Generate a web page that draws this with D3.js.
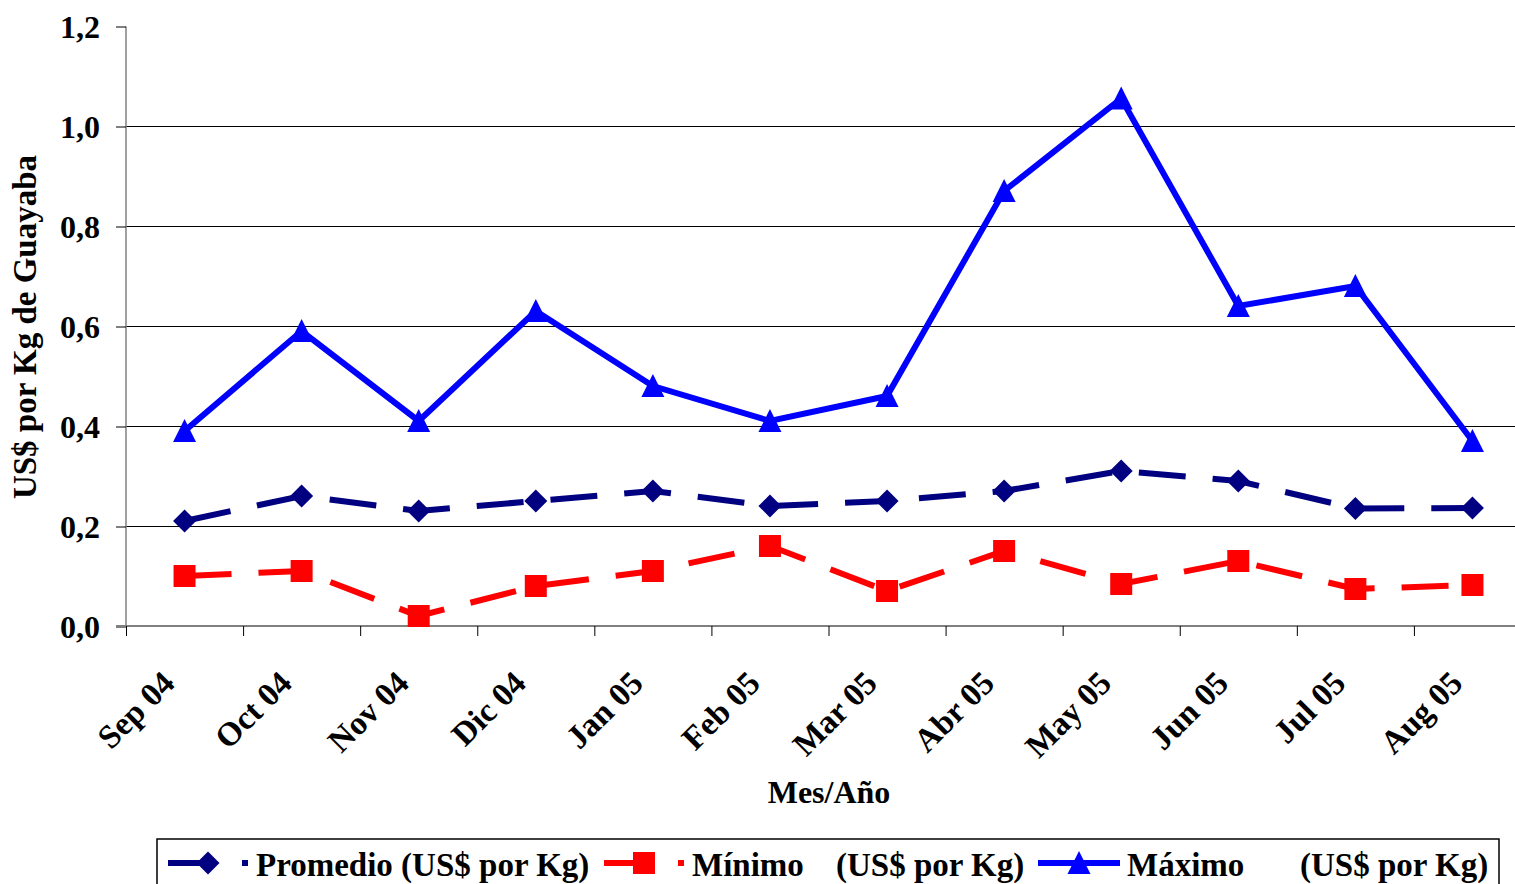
<!DOCTYPE html>
<html>
<head>
<meta charset="utf-8">
<script src="https://cdn.jsdelivr.net/npm/d3@7"></script>
<style>
  html, body { margin: 0; padding: 0; background: #fff; overflow: hidden; }
  svg { display: block; }
  text { font-family: "Liberation Serif", "Times New Roman", serif; font-weight: bold; fill: #000; }
</style>
</head>
<body>
<svg id="chart" width="1515" height="884"></svg>
<script>
// Monthly guava prices, US$ per kg
const months   = ["Sep 04", "Oct 04", "Nov 04", "Dic 04", "Jan 05", "Feb 05",
                  "Mar 05", "Abr 05", "May 05", "Jun 05", "Jul 05", "Aug 05"];
const promedio = [0.21, 0.26, 0.23, 0.25, 0.27, 0.24, 0.25, 0.27, 0.31, 0.29, 0.235, 0.236];
const minimo   = [0.10, 0.11, 0.02, 0.08, 0.11, 0.16, 0.07, 0.15, 0.084, 0.13, 0.074, 0.082];
const maximo   = [0.39, 0.59, 0.41, 0.63, 0.48, 0.41, 0.46, 0.87, 1.055, 0.64, 0.68, 0.37];
const yTicks   = [0, 0.2, 0.4, 0.6, 0.8, 1.0, 1.2];

const svg = d3.select("#chart");
const W = 1515;

const x = d3.scaleBand().domain(months).range([126, 1531]);
const y = d3.scaleLinear().domain([0, 1.2]).range([626, 26]);
const fmt = v => d3.format(".1f")(v).replace(".", ",");

// horizontal gridlines
svg.append("g")
  .selectAll("line")
  .data(yTicks.filter(t => t > 0 && t < 1.2))
  .join("line")
  .attr("x1", 126).attr("x2", W)
  .attr("y1", d => y(d) + 0.5).attr("y2", d => y(d) + 0.5)
  .attr("stroke", "#000").attr("stroke-width", 1);

// y axis
const yAxis = svg.append("g")
  .attr("transform", "translate(126,0.5)")
  .call(d3.axisLeft(y).tickValues(yTicks).tickFormat(fmt).tickSize(10).tickPadding(16));
yAxis.select(".domain").attr("stroke", "#808080").attr("stroke-width", 1.5).attr("d", `M0,${y(1.2)}V${y(0)}`);
yAxis.selectAll(".tick line").attr("stroke", "#000");
yAxis.selectAll(".tick text")
  .attr("font-size", 32).attr("font-family", "Liberation Serif, Times New Roman, serif")
  .attr("font-weight", "bold").attr("dy", "0.34em");

// x axis with category boundary ticks
const xAxisG = svg.append("g").attr("transform", `translate(0,${y(0)})`);
xAxisG.append("line")
  .attr("x1", 116).attr("x2", W)
  .attr("stroke", "#808080").attr("stroke-width", 2);
const bounds = months.map(m => x(m)).concat([x.range()[1]]);
xAxisG.selectAll("line.tk")
  .data(bounds)
  .join("line").attr("class", "tk")
  .attr("x1", d => d + 0.5).attr("x2", d => d + 0.5)
  .attr("y1", 0).attr("y2", 10)
  .attr("stroke", "#000").attr("stroke-width", 1);
xAxisG.selectAll("text")
  .data(months)
  .join("text")
  .attr("transform", d => `translate(${x(d) + x.bandwidth() / 2 - 8},${59}) rotate(-45)`)
  .attr("text-anchor", "end")
  .attr("font-size", 33)
  .text(d => d);

// axis titles
svg.append("text")
  .attr("x", 829).attr("y", 803)
  .attr("text-anchor", "middle").attr("font-size", 32)
  .text("Mes/Año");
svg.append("text")
  .attr("transform", "translate(36,327) rotate(-90)")
  .attr("text-anchor", "middle").attr("font-size", 33)
  .text("US$ por Kg de Guayaba");

// series
const cx = (d, i) => x(months[i]) + x.bandwidth() / 2;
const series = [
  { name: "Promedio", values: promedio, color: "#000080", dash: "47,27", marker: "diamond" },
  { name: "Mínimo",   values: minimo,   color: "#FF0000", dash: "47,27", marker: "square" },
  { name: "Máximo",   values: maximo,   color: "#0000FF", dash: null,    marker: "triangle" }
];

function markerPath(type) {
  if (type === "diamond") return "M0,-11.5L11.5,0L0,11.5L-11.5,0Z";
  if (type === "square") return "M-11,-11H11V11H-11Z";
  return "M0,-12L11.5,11H-11.5Z";
}

const line = d3.line().x(cx).y(d => y(d));
series.forEach(s => {
  const g = svg.append("g");
  g.append("path")
    .attr("d", line(s.values))
    .attr("fill", "none")
    .attr("stroke", s.color)
    .attr("stroke-width", 6)
    .attr("stroke-linejoin", "miter")
    .attr("stroke-dasharray", s.dash);
  g.selectAll("path.mk")
    .data(s.values)
    .join("path").attr("class", "mk")
    .attr("transform", (d, i) => `translate(${cx(d, i)},${y(d)})`)
    .attr("d", markerPath(s.marker))
    .attr("fill", s.color);
});

// legend
const lg = svg.append("g");
lg.append("rect")
  .attr("x", 157).attr("y", 839).attr("width", 1342).attr("height", 80)
  .attr("fill", "#fff").attr("stroke", "#000").attr("stroke-width", 1.5);

const legendItems = [
  { s: series[0], x0: 168, x1: 248, mx: 208, label: "Promedio (US$ por Kg)", tx: 256, unit: null, ux: null },
  { s: series[1], x0: 604, x1: 684, mx: 644, label: "Mínimo", tx: 692, unit: "(US$ por Kg)", ux: 836 },
  { s: series[2], x0: 1038, x1: 1120, mx: 1079, label: "Máximo", tx: 1127, unit: "(US$ por Kg)", ux: 1300 }
];
const ly = 863;
legendItems.forEach(it => {
  lg.append("line")
    .attr("x1", it.x0).attr("x2", it.x1).attr("y1", ly).attr("y2", ly)
    .attr("stroke", it.s.color).attr("stroke-width", 6)
    .attr("stroke-dasharray", it.s.dash);
  lg.append("path")
    .attr("transform", `translate(${it.mx},${ly})`)
    .attr("d", markerPath(it.s.marker))
    .attr("fill", it.s.color);
  lg.append("text").attr("x", it.tx).attr("y", 876).attr("font-size", 33).text(it.label);
  if (it.unit) lg.append("text").attr("x", it.ux).attr("y", 876).attr("font-size", 33).text(it.unit);
});
</script>
</body>
</html>
